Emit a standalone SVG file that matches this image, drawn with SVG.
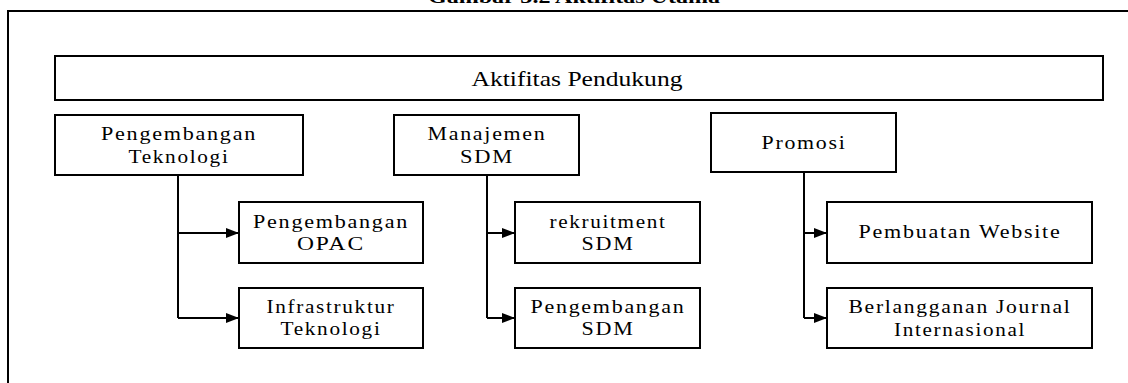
<svg xmlns="http://www.w3.org/2000/svg" width="1128" height="383" viewBox="0 0 1128 383">
<style>
.box{fill:#fff;stroke:#000;stroke-width:2}
.t{font-family:'Liberation Serif','Times New Roman','DejaVu Serif',serif;font-size:19px;letter-spacing:1.5px;fill:#000;text-anchor:middle}
.h{font-family:'Liberation Serif','Times New Roman','DejaVu Serif',serif;fill:#000;text-anchor:middle}
.c{fill:none;stroke:#000;stroke-width:2}
</style>
<defs>
<marker id="ah" markerUnits="userSpaceOnUse" markerWidth="14" markerHeight="11" refX="13" refY="5" orient="auto">
<path d="M0,0 L13,5 L0,10 z" fill="#000"/>
</marker>
</defs>
<rect width="1128" height="383" fill="#fff"/>
<text x="574" y="3" class="h" font-weight="bold" font-size="18" textLength="292" lengthAdjust="spacingAndGlyphs">Gambar 3.2 Aktifitas Utama</text>
<path d="M8,383 L8,11 L1128,11" class="c"/>
<g id="aktifitas-pendukung">
<rect x="55" y="56" width="1048" height="44" class="box"/>
<text x="577" y="86" class="h" font-size="21" textLength="211" lengthAdjust="spacingAndGlyphs">Aktifitas Pendukung</text>
</g>
<g id="connectors">
<path d="M178,175 V318" class="c"/>
<path d="M178,233 H239" class="c" marker-end="url(#ah)"/>
<path d="M178,318 H239" class="c" marker-end="url(#ah)"/>
<path d="M487,175 V318" class="c"/>
<path d="M487,233 H515" class="c" marker-end="url(#ah)"/>
<path d="M487,318 H515" class="c" marker-end="url(#ah)"/>
<path d="M804,172 V318" class="c"/>
<path d="M804,233 H827" class="c" marker-end="url(#ah)"/>
<path d="M804,318 H827" class="c" marker-end="url(#ah)"/>
</g>
<g id="pengembangan-teknologi">
<rect x="55" y="115" width="248" height="60" class="box"/>
<text x="179" y="140" class="t" textLength="156" lengthAdjust="spacingAndGlyphs">Pengembangan</text>
<text x="179" y="163" class="t" textLength="101" lengthAdjust="spacingAndGlyphs">Teknologi</text>
</g>
<g id="manajemen-sdm">
<rect x="394" y="115" width="185" height="60" class="box"/>
<text x="487" y="140" class="t" textLength="119" lengthAdjust="spacingAndGlyphs">Manajemen</text>
<text x="487" y="163" class="t" textLength="54" lengthAdjust="spacingAndGlyphs">SDM</text>
</g>
<g id="promosi">
<rect x="711" y="113" width="185" height="59" class="box"/>
<text x="804" y="149" class="t" textLength="85" lengthAdjust="spacingAndGlyphs">Promosi</text>
</g>
<g id="pengembangan-opac">
<rect x="239" y="202" width="184" height="61" class="box"/>
<text x="331" y="228" class="t" textLength="156" lengthAdjust="spacingAndGlyphs">Pengembangan</text>
<text x="331" y="250" class="t" textLength="68" lengthAdjust="spacingAndGlyphs">OPAC</text>
</g>
<g id="infrastruktur-teknologi">
<rect x="239" y="288" width="184" height="60" class="box"/>
<text x="331" y="313" class="t" textLength="129" lengthAdjust="spacingAndGlyphs">Infrastruktur</text>
<text x="331" y="335" class="t" textLength="101" lengthAdjust="spacingAndGlyphs">Teknologi</text>
</g>
<g id="rekruitment-sdm">
<rect x="515" y="202" width="185" height="61" class="box"/>
<text x="608" y="228" class="t" textLength="117" lengthAdjust="spacingAndGlyphs">rekruitment</text>
<text x="608" y="250" class="t" textLength="53" lengthAdjust="spacingAndGlyphs">SDM</text>
</g>
<g id="pengembangan-sdm">
<rect x="515" y="288" width="185" height="60" class="box"/>
<text x="608" y="313" class="t" textLength="155" lengthAdjust="spacingAndGlyphs">Pengembangan</text>
<text x="608" y="335" class="t" textLength="53" lengthAdjust="spacingAndGlyphs">SDM</text>
</g>
<g id="pembuatan-website">
<rect x="827" y="202" width="265" height="61" class="box"/>
<text x="960" y="238" class="t" textLength="203" lengthAdjust="spacingAndGlyphs">Pembuatan Website</text>
</g>
<g id="berlangganan-journal">
<rect x="827" y="288" width="265" height="60" class="box"/>
<text x="960" y="313" class="t" textLength="223" lengthAdjust="spacingAndGlyphs">Berlangganan Journal</text>
<text x="960" y="336" class="t" textLength="132" lengthAdjust="spacingAndGlyphs">Internasional</text>
</g>
</svg>
